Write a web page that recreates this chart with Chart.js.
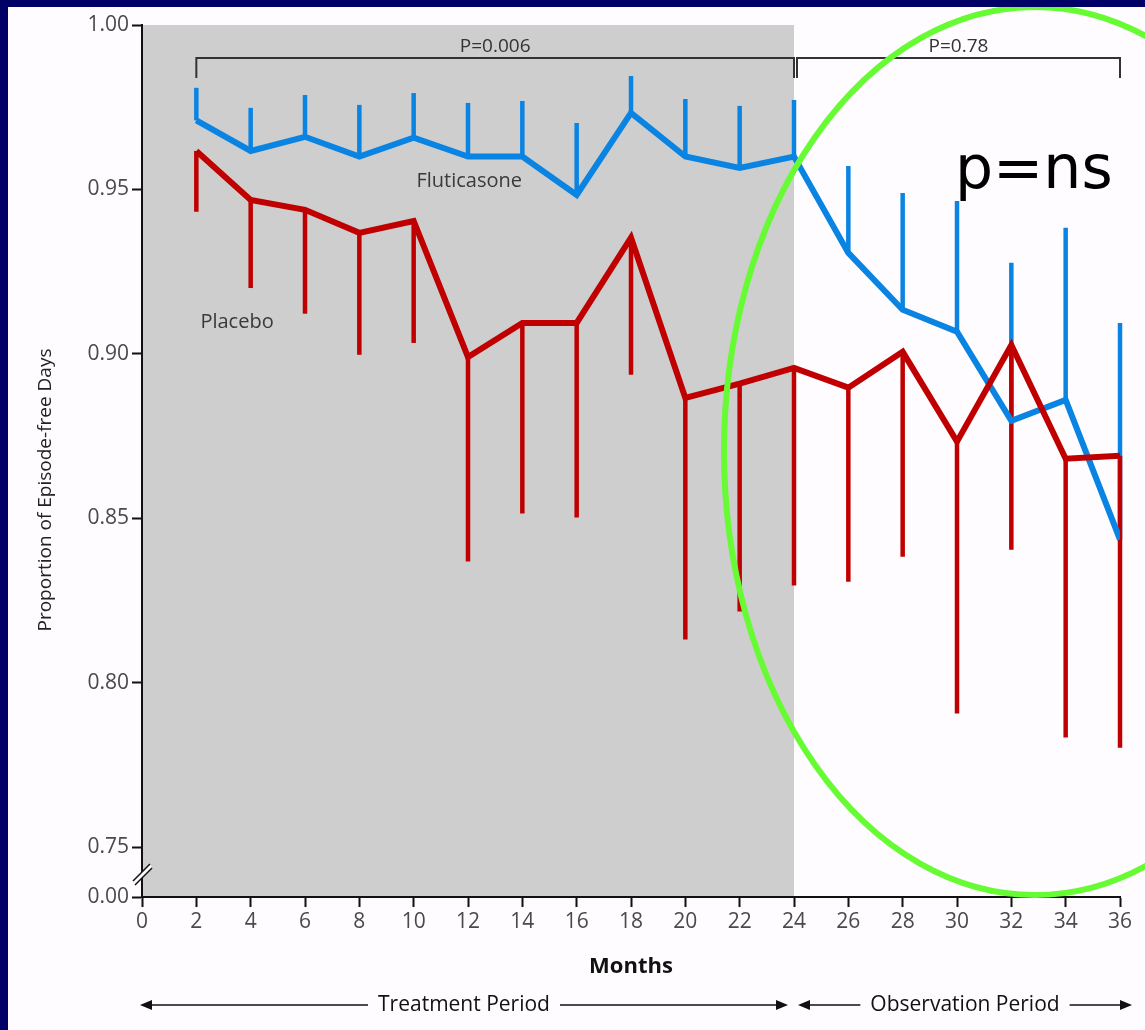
<!DOCTYPE html>
<html>
<head>
<meta charset="utf-8">
<title>Episode-free days</title>
<script src="https://cdn.jsdelivr.net/npm/chart.js@4.4.1/dist/chart.umd.min.js"></script>
<style>
    html, body { margin: 0; padding: 0; background: #fefcfe; }
    canvas { display: block; }
</style>
</head>
<body>
<canvas id="episodeChart" width="1145" height="1030"></canvas>
<script>
// Data
const months = [2, 4, 6, 8, 10, 12, 14, 16, 18, 20, 22, 24, 26, 28, 30, 32, 34, 36];
const fluticasone = [0.971, 0.9617, 0.966, 0.960, 0.9657, 0.960, 0.960, 0.9483, 0.9733, 0.960, 0.9565, 0.960,
    0.9307, 0.9134, 0.9067, 0.8796, 0.886, 0.8435];
const fluticasoneUpper = [0.9809, 0.9748, 0.9787, 0.9757, 0.9793, 0.9763, 0.9769, 0.9702, 0.9845, 0.9775, 0.9754, 0.9772,
    0.9571, 0.9489, 0.9465, 0.9277, 0.9383, 0.9094];
const placebo = [0.9617, 0.9468, 0.9438, 0.9368, 0.9404, 0.899, 0.9094, 0.9094, 0.9353, 0.8866, 0.8909, 0.8957,
    0.8897, 0.9006, 0.8733, 0.9027, 0.8681, 0.869];
const placeboLower = [0.9432, 0.920, 0.9122, 0.8997, 0.9033, 0.8368, 0.8514, 0.8502, 0.8936, 0.8131, 0.8216, 0.8295,
    0.8307, 0.8383, 0.7906, 0.8404, 0.7833, 0.7802];

const monthTicks = [0, 2, 4, 6, 8, 10, 12, 14, 16, 18, 20, 22, 24, 26, 28, 30, 32, 34, 36];
const yTicks = [0.75, 0.80, 0.85, 0.90, 0.95, 1.00];
const yFloor = 0.7348;       // bottom of the broken axis
const yFloorLabel = "0.00";
const treatmentEnd = 24;
const studyEnd = 36;

const BLUE = "#0a84e2";
const RED = "#c00000";
const FONT = "'Open Sans', sans-serif";

// Background, shaded treatment period and error bars
const backdropPlugin = {
    id: "backdrop",
    beforeDraw(chart) {
        const { ctx, chartArea, scales } = chart;
        ctx.save();
        ctx.fillStyle = "#fefcfe";
        ctx.fillRect(0, 0, chart.width, chart.height);
        const x0 = scales.x.getPixelForValue(0);
        const x1 = scales.x.getPixelForValue(treatmentEnd);
        ctx.fillStyle = "#cecece";
        ctx.fillRect(x0, chartArea.top, x1 - x0, chartArea.bottom - chartArea.top);
        ctx.restore();
    },
    beforeDatasetsDraw(chart) {
        const { ctx, scales } = chart;
        ctx.save();
        ctx.lineWidth = 4.5;
        ctx.lineCap = "butt";
        months.forEach((m, i) => {
            const px = scales.x.getPixelForValue(m);
            ctx.strokeStyle = BLUE;
            ctx.beginPath();
            ctx.moveTo(px, scales.y.getPixelForValue(fluticasone[i]));
            ctx.lineTo(px, scales.y.getPixelForValue(fluticasoneUpper[i]));
            ctx.stroke();
        });
        months.forEach((m, i) => {
            const px = scales.x.getPixelForValue(m);
            ctx.strokeStyle = RED;
            ctx.beginPath();
            ctx.moveTo(px, scales.y.getPixelForValue(placebo[i]));
            ctx.lineTo(px, scales.y.getPixelForValue(placeboLower[i]));
            ctx.stroke();
        });
        ctx.restore();
    }
};

// Brackets, labels, axis break, period arrows and the annotation
const annotatePlugin = {
    id: "annotate",
    afterDraw(chart) {
        const { ctx, chartArea, scales } = chart;
        const x = scales.x, y = scales.y;
        ctx.save();

        // axis break marks
        const yb = y.getPixelForValue((0.75 + yFloor) / 2);
        const xa = chartArea.left;
        ctx.fillStyle = "#fefcfe";
        ctx.beginPath();
        ctx.moveTo(xa - 9, yb + 9);
        ctx.lineTo(xa + 8, yb - 8);
        ctx.lineTo(xa + 10, yb - 4);
        ctx.lineTo(xa - 7, yb + 13);
        ctx.closePath();
        ctx.fill();
        ctx.strokeStyle = "#111";
        ctx.lineWidth = 1.5;
        ctx.beginPath();
        ctx.moveTo(xa - 9, yb + 9);
        ctx.lineTo(xa + 8, yb - 8);
        ctx.moveTo(xa - 7, yb + 13);
        ctx.lineTo(xa + 10, yb - 4);
        ctx.stroke();

        // significance brackets
        const bTop = chartArea.top + 33;
        const bBot = chartArea.top + 53;
        ctx.strokeStyle = "#333";
        ctx.lineWidth = 2;
        const brackets = [
            { from: 2, to: treatmentEnd, shift: 0, text: "P=0.006" },
            { from: treatmentEnd, to: studyEnd, shift: 3, text: "P=0.78" }
        ];
        ctx.font = "19px " + FONT;
        ctx.fillStyle = "#333";
        ctx.textAlign = "center";
        ctx.textBaseline = "alphabetic";
        brackets.forEach(b => {
            const a = x.getPixelForValue(b.from) + b.shift;
            const c = x.getPixelForValue(b.to);
            ctx.beginPath();
            ctx.moveTo(a, bBot);
            ctx.lineTo(a, bTop);
            ctx.lineTo(c, bTop);
            ctx.lineTo(c, bBot);
            ctx.stroke();
            ctx.fillText(b.text, (a + c) / 2, bTop - 6);
        });

        // series labels
        ctx.font = "20px " + FONT;
        ctx.fillStyle = "#3a3a3a";
        ctx.textAlign = "left";
        ctx.textBaseline = "middle";
        ctx.fillText("Fluticasone", x.getPixelForValue(10.1), y.getPixelForValue(0.9525));
        ctx.fillText("Placebo", x.getPixelForValue(2.15), y.getPixelForValue(0.9095));

        // y axis title
        ctx.save();
        ctx.translate(46, 490);
        ctx.rotate(-Math.PI / 2);
        ctx.textAlign = "center";
        ctx.font = "19px " + FONT;
        ctx.fillStyle = "#222";
        ctx.fillText("Proportion of Episode-free Days", 0, 0);
        ctx.restore();

        // period arrows under the axis
        const ay = 1005;
        const pStart = x.getPixelForValue(0);
        const pMid = x.getPixelForValue(treatmentEnd);
        const pEnd = x.getPixelForValue(studyEnd);
        ctx.font = "21px " + FONT;
        ctx.fillStyle = "#111";
        ctx.strokeStyle = "#111";
        ctx.lineWidth = 1.5;
        const periods = [
            { a: pStart - 2, b: pMid - 6, text: "Treatment Period" },
            { a: pMid + 4, b: pEnd + 12, text: "Observation Period" }
        ];
        const arrowHead = (tipX, dir) => {
            ctx.beginPath();
            ctx.moveTo(tipX, ay);
            ctx.lineTo(tipX - dir * 12, ay - 5);
            ctx.lineTo(tipX - dir * 12, ay + 5);
            ctx.closePath();
            ctx.fill();
        };
        periods.forEach(p => {
            const mid = (p.a + p.b) / 2;
            const half = ctx.measureText(p.text).width / 2 + 10;
            ctx.textAlign = "center";
            ctx.fillText(p.text, mid, ay);
            ctx.beginPath();
            ctx.moveTo(p.a + 10, ay);
            ctx.lineTo(mid - half, ay);
            ctx.moveTo(mid + half, ay);
            ctx.lineTo(p.b - 10, ay);
            ctx.stroke();
            arrowHead(p.a, -1);
            arrowHead(p.b, 1);
        });

        // green highlight ellipse
        ctx.strokeStyle = "#66fb33";
        ctx.lineWidth = 6;
        ctx.beginPath();
        ctx.ellipse(1035, 451, 311, 444, 0, 0, Math.PI * 2);
        ctx.stroke();

        ctx.font = "60px 'DejaVu Sans', sans-serif";
        ctx.fillStyle = "#000";
        ctx.textAlign = "left";
        ctx.textBaseline = "alphabetic";
        ctx.fillText("p=ns", 955, 188);

        // navy frame
        ctx.fillStyle = "#000066";
        ctx.fillRect(0, 0, chart.width, 7);
        ctx.fillRect(0, 0, 8, chart.height);
        ctx.restore();
    }
};

document.addEventListener("DOMContentLoaded", function () {
    const canvas = document.getElementById("episodeChart");

    new Chart(canvas, {
        type: "line",
        data: {
            datasets: [
                {
                    label: "Placebo",
                    data: months.map((m, i) => ({ x: m, y: placebo[i] })),
                    borderColor: RED,
                    borderWidth: 6,
                    pointRadius: 0,
                    tension: 0,
                    fill: false
                },
                {
                    label: "Fluticasone",
                    data: months.map((m, i) => ({ x: m, y: fluticasone[i] })),
                    borderColor: BLUE,
                    borderWidth: 6,
                    pointRadius: 0,
                    tension: 0,
                    fill: false
                }
            ]
        },
        options: {
            responsive: false,
            animation: false,
            devicePixelRatio: 1,
            layout: { padding: { top: 25, right: 25, left: 0, bottom: 0 } },
            plugins: {
                legend: { display: false },
                tooltip: { enabled: false }
            },
            scales: {
                x: {
                    type: "linear",
                    min: 0,
                    max: studyEnd,
                    afterBuildTicks: scale => { scale.ticks = monthTicks.map(v => ({ value: v })); },
                    afterFit: scale => { scale.height = 133; },
                    grid: { drawOnChartArea: false, tickLength: 10, tickColor: "#111", tickWidth: 2 },
                    border: { color: "#111", width: 2 },
                    ticks: {
                        color: "#4a4a4a",
                        padding: 2,
                        maxRotation: 0,
                        font: { family: FONT, size: 21 }
                    },
                    title: {
                        display: true,
                        text: "Months",
                        color: "#111",
                        font: { family: FONT, size: 22, weight: "bold" },
                        padding: { top: 0, bottom: 50 }
                    }
                },
                y: {
                    type: "linear",
                    min: yFloor,
                    max: 1.0,
                    afterBuildTicks: scale => { scale.ticks = [yFloor, ...yTicks].map(v => ({ value: v })); },
                    afterFit: scale => { scale.width = 142; },
                    grid: { drawOnChartArea: false, tickLength: 10, tickColor: "#111", tickWidth: 2 },
                    border: { color: "#111", width: 2 },
                    ticks: {
                        color: "#4a4a4a",
                        padding: 3,
                        font: { family: FONT, size: 21 },
                        callback: value => value === yFloor ? yFloorLabel : value.toFixed(2)
                    }
                }
            }
        },
        plugins: [backdropPlugin, annotatePlugin]
    });
});
</script>
</body>
</html>
